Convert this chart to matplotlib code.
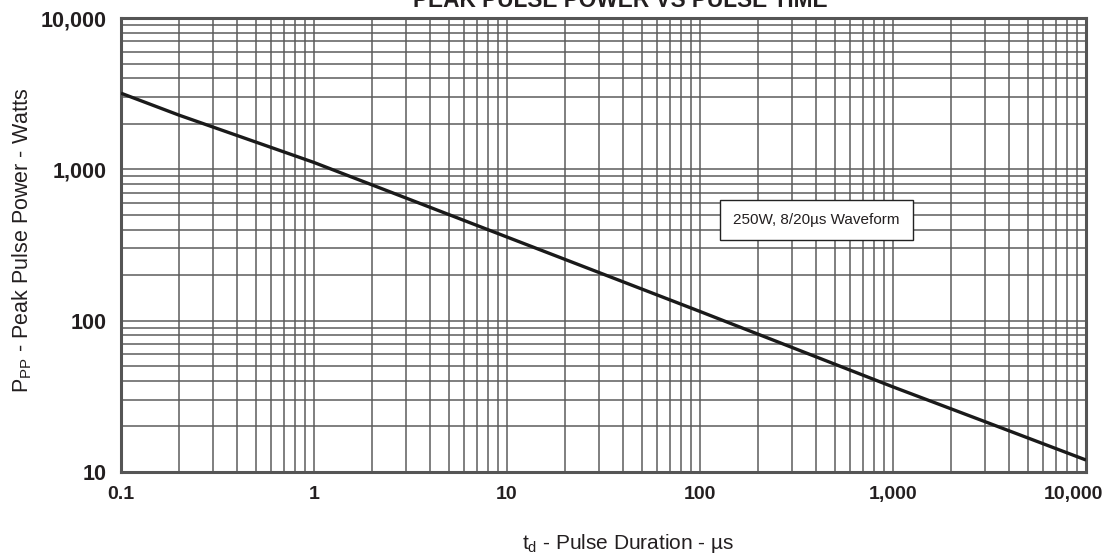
import numpy as np
import matplotlib
matplotlib.use("Agg")
import matplotlib.pyplot as plt
import matplotlib.transforms as mtransforms
from matplotlib.ticker import FixedLocator, LogLocator, NullFormatter

plt.rcParams["font.family"] = ["Liberation Sans", "DejaVu Sans"]

# Curve (pulse duration in us, peak power in W)
pulse_us = [0.1, 0.2, 1, 10, 100, 1000, 3000, 10000]
power_w = [3185, 2280, 1110, 357, 115, 36.5, 21.5, 12]

x_ticks = [0.1, 1, 10, 100, 1000, 10000]
x_labels = ["0.1", "1", "10", "100", "1,000", "10,000"]
y_ticks = [10, 100, 1000, 10000]
y_labels = ["10", "100", "1,000", "10,000"]

grid_col = "#5c5c5c"
text_col = "#231f20"

fig = plt.figure(figsize=(11.05, 5.55), dpi=100)
ax = fig.add_axes([121 / 1105, 1 - 472 / 555, (1086 - 121) / 1105, (472 - 18) / 555])

ax.set_xscale("log")
ax.set_yscale("log")
ax.set_xlim(0.1, 10000)
ax.set_ylim(10, 10000)

ax.plot(pulse_us, power_w, color="#1a1a1a", lw=2.4, solid_capstyle="butt", zorder=3)

ax.xaxis.set_major_locator(FixedLocator(x_ticks))
ax.yaxis.set_major_locator(FixedLocator(y_ticks))
ax.xaxis.set_minor_locator(LogLocator(base=10, subs=np.arange(2, 10)))
ax.yaxis.set_minor_locator(LogLocator(base=10, subs=np.arange(2, 10)))
ax.xaxis.set_minor_formatter(NullFormatter())
ax.yaxis.set_minor_formatter(NullFormatter())
ax.set_xticklabels(x_labels)
ax.set_yticklabels(y_labels)

ax.grid(True, which="both", color=grid_col, lw=1.1)
ax.tick_params(which="both", length=0)
ax.tick_params(axis="x", pad=10, labelsize=14, labelcolor=text_col)
ax.tick_params(axis="y", pad=10, labelsize=15.5, labelcolor=text_col)
for lab in ax.get_xticklabels() + ax.get_yticklabels():
    lab.set_fontweight("bold")
# last x label sits shifted left so it stays inside the figure
last = ax.get_xticklabels()[-1]
last.set_transform(last.get_transform() + mtransforms.ScaledTranslation(-13 / 100, 0, fig.dpi_scale_trans))

for sp in ax.spines.values():
    sp.set_color("#555555")
    sp.set_linewidth(2.2)

fig.text(628 / 1105, 1 - 549 / 555, r"$\mathregular{t_{d}}$ - Pulse Duration - µs", ha="center",
         va="baseline", fontsize=15, color=text_col)
fig.text(22 / 1105, 1 - 240 / 555, r"$\mathregular{P_{PP}}$ - Peak Pulse Power - Watts", ha="center",
         va="center", rotation=90, fontsize=15.5, color=text_col)

ax.text(0.7207, 0.555, "250W, 8/20µs Waveform", transform=ax.transAxes, ha="center", va="center",
        fontsize=11, color=text_col, zorder=5,
        bbox=dict(boxstyle="square,pad=0.85", fc="white", ec="#222222", lw=1.0))

fig.text(620 / 1105, 1 - 7 / 555, "PEAK PULSE POWER VS PULSE TIME", ha="center", va="baseline",
         fontsize=16.3, fontweight="bold", color=text_col)

fig.savefig("out.png", dpi=100)
